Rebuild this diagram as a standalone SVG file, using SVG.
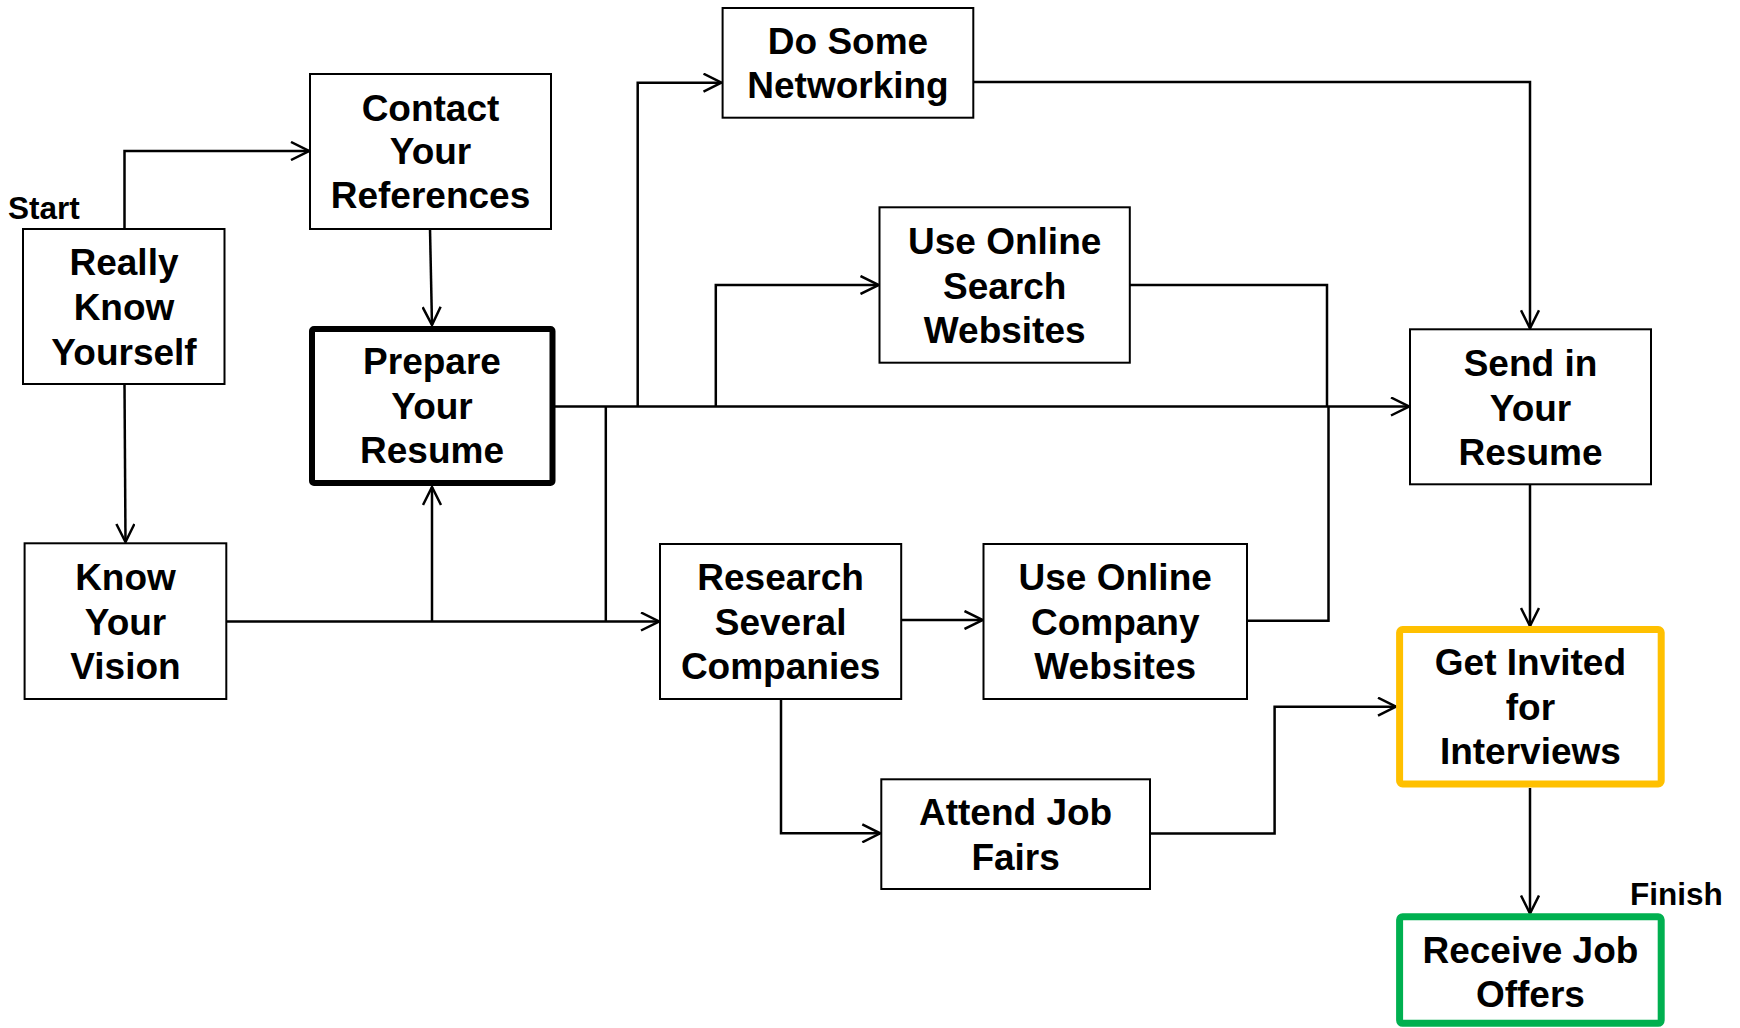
<svg xmlns="http://www.w3.org/2000/svg" width="1740" height="1028" viewBox="0 0 1740 1028">
<style>
.box{fill:#fff;stroke:#000;stroke-width:2}
.t{font-family:"Liberation Sans",Arial,sans-serif;font-weight:bold;font-size:37px;text-anchor:middle;fill:#000}
.lbl{font-family:"Liberation Sans",Arial,sans-serif;font-weight:bold;font-size:31.5px;fill:#000}
.c{fill:none;stroke:#000;stroke-width:2.5}
</style>
<defs>
<marker id="arr" viewBox="0 0 20 20" refX="19" refY="10" markerWidth="20" markerHeight="20" markerUnits="userSpaceOnUse" orient="auto">
<path d="M1,1 L19,10 L1,19" fill="none" stroke="#000" stroke-width="2.5"/>
</marker>
</defs>
<rect width="1740" height="1028" fill="#fff"/>
<g id="connectors">
<path class="c" d="M124.5,229 V151 H309" marker-end="url(#arr)"/>
<path class="c" d="M430,229 L432,325" marker-end="url(#arr)"/>
<path class="c" d="M124.5,384 L125.5,542" marker-end="url(#arr)"/>
<path class="c" d="M226,621.5 H659" marker-end="url(#arr)"/>
<path class="c" d="M432,621.5 V487" marker-end="url(#arr)"/>
<path class="c" d="M555,406.5 H1409" marker-end="url(#arr)"/>
<path class="c" d="M637.7,406.5 V82.7 H721.5" marker-end="url(#arr)"/>
<path class="c" d="M715.8,406.5 V285 H878.5" marker-end="url(#arr)"/>
<path class="c" d="M605.8,406.5 V621.5"/>
<path class="c" d="M1130,285 H1327 V406.5"/>
<path class="c" d="M1247,620.7 H1328.5 V406.5"/>
<path class="c" d="M973.3,82 H1530 V328.3" marker-end="url(#arr)"/>
<path class="c" d="M901.2,620 H982.5" marker-end="url(#arr)"/>
<path class="c" d="M781,699 V833.3 H880.3" marker-end="url(#arr)"/>
<path class="c" d="M1150,833.5 H1274.6 V706.7 H1396" marker-end="url(#arr)"/>
<path class="c" d="M1530,484.3 V626" marker-end="url(#arr)"/>
<path class="c" d="M1530,788 V913.5" marker-end="url(#arr)"/>
</g>
<text class="lbl" x="8" y="219">Start</text>
<text class="lbl" x="1630" y="905">Finish</text>
<g id="really">
<rect class="box" x="23" y="229" width="201.5" height="155"/>
<text class="t" x="124" y="275">Really</text>
<text class="t" x="124" y="320">Know</text>
<text class="t" x="124" y="365">Yourself</text>
</g>
<g id="contact">
<rect class="box" x="310" y="74" width="241" height="155"/>
<text class="t" x="430.5" y="120.5">Contact</text>
<text class="t" x="430.5" y="163.5">Your</text>
<text class="t" x="430.5" y="208">References</text>
</g>
<g id="prepare">
<rect x="312" y="329" width="240.5" height="154" rx="2" fill="#fff" stroke="#000" stroke-width="6"/>
<text class="t" x="432" y="374">Prepare</text>
<text class="t" x="432" y="418.5">Your</text>
<text class="t" x="432" y="463">Resume</text>
</g>
<g id="networking">
<rect class="box" x="722.6" y="8" width="250.7" height="109.7"/>
<text class="t" x="848" y="53.5">Do Some</text>
<text class="t" x="848" y="98">Networking</text>
</g>
<g id="search">
<rect class="box" x="879.5" y="207.3" width="250.3" height="155.4"/>
<text class="t" x="1004.7" y="254">Use Online</text>
<text class="t" x="1004.7" y="298.5">Search</text>
<text class="t" x="1004.7" y="343">Websites</text>
</g>
<g id="send">
<rect class="box" x="1410" y="329.3" width="241" height="155"/>
<text class="t" x="1530.5" y="376">Send in</text>
<text class="t" x="1530.5" y="420.5">Your</text>
<text class="t" x="1530.5" y="465">Resume</text>
</g>
<g id="vision">
<rect class="box" x="24.6" y="543.3" width="201.7" height="155.7"/>
<text class="t" x="125.5" y="590">Know</text>
<text class="t" x="125.5" y="634.5">Your</text>
<text class="t" x="125.5" y="679">Vision</text>
</g>
<g id="research">
<rect class="box" x="660" y="544" width="241.2" height="155"/>
<text class="t" x="780.6" y="590">Research</text>
<text class="t" x="780.6" y="634.5">Several</text>
<text class="t" x="780.6" y="678.5">Companies</text>
</g>
<g id="company">
<rect class="box" x="983.5" y="544" width="263.5" height="155"/>
<text class="t" x="1115.2" y="590">Use Online</text>
<text class="t" x="1115.2" y="634.5">Company</text>
<text class="t" x="1115.2" y="678.5">Websites</text>
</g>
<g id="fairs">
<rect class="box" x="881.3" y="779.3" width="268.7" height="109.7"/>
<text class="t" x="1015.6" y="825">Attend Job</text>
<text class="t" x="1015.6" y="869.5">Fairs</text>
</g>
<g id="interviews">
<rect x="1399.6" y="629.6" width="261.6" height="154.4" rx="3" fill="#fff" stroke="#FFC000" stroke-width="7"/>
<text class="t" x="1530.4" y="674.5">Get Invited</text>
<text class="t" x="1530.4" y="719.5">for</text>
<text class="t" x="1530.4" y="764">Interviews</text>
</g>
<g id="offers">
<rect x="1399.6" y="916.8" width="261.6" height="106.5" rx="3" fill="#fff" stroke="#00B050" stroke-width="7"/>
<text class="t" x="1530.4" y="962.5">Receive Job</text>
<text class="t" x="1530.4" y="1007">Offers</text>
</g>
</svg>
